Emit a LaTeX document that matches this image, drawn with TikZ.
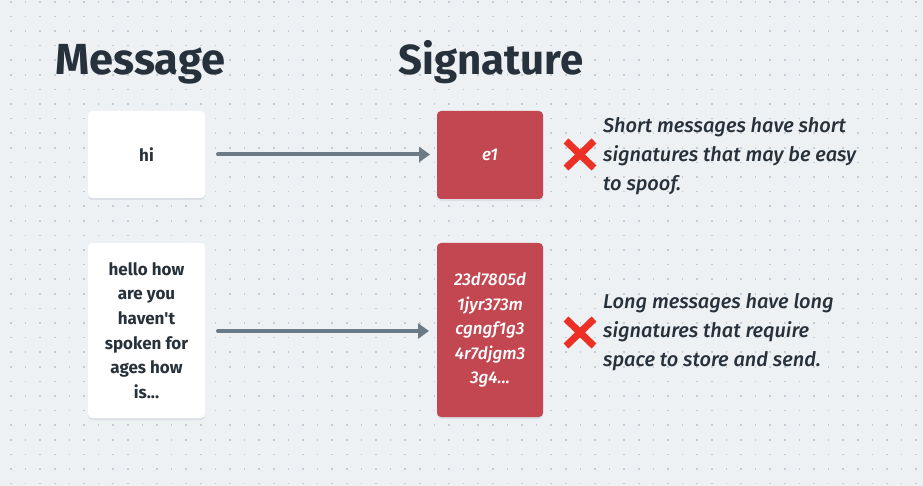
\documentclass[tikz,border=0pt]{standalone}
\usepackage{fontspec}
\setmainfont{Fira Sans}
\newfontfamily\medfont{Fira Sans Medium}[ItalicFont={Fira Sans Medium Italic}]
\newfontfamily\plainfont{Fira Sans}[Ligatures=TeXOff]
\usetikzlibrary{arrows.meta}
\definecolor{bg}{HTML}{EEF1F4}
\definecolor{dotc}{HTML}{C6CCD5}
\definecolor{ink}{HTML}{27313B}
\definecolor{sigred}{HTML}{C34751}
\definecolor{arrowc}{HTML}{6C7A86}
\definecolor{xred}{HTML}{EC3025}
\definecolor{shadowc}{HTML}{DCE0E6}
\tikzset{
  title/.style={font=\bfseries\fontsize{43.5}{50}\selectfont, text=ink, anchor=base west, inner sep=0},
  msgbox/.style={fill=white, rounded corners=4pt, draw=none},
  sigbox/.style={fill=sigred, rounded corners=4pt, draw=none},
  msgtext/.style={font=\plainfont\bfseries\fontsize{17}{24.6}\selectfont, text=ink, align=center, inner sep=0},
  sigtext/.style={font=\medfont\itshape\fontsize{17}{24.5}\selectfont, text=white, align=center, inner sep=0},
  note/.style={font=\medfont\itshape\fontsize{20}{29}\selectfont, text=ink, align=left, anchor=west, inner sep=0},
  conn/.style={draw=arrowc, line width=4pt, line cap=round, -{Triangle[length=11pt,width=15pt]}},
  cross/.style={draw=xred, line width=7pt},
}
\begin{document}
\begin{tikzpicture}[x=1pt,y=-1pt]
\useasboundingbox (0,0) rectangle (923,486);
\fill[bg] (0,0) rectangle (923,486);
\foreach \i in {0,...,62} {
  \foreach \j in {0,...,33} {
    \fill[dotc] ({11+14.6*\i-0.8},{1.8+14.6*\j-0.8}) rectangle ++(1.6,1.6);
  }
}
% titles
\node[title] (t1) at (55,75) {Message};
\node[title, font=\bfseries\fontsize{42}{50}\selectfont] (t2) at (398,75) {Signature};
% shadows
\fill[shadowc, rounded corners=4pt] (88,112.5) rectangle (205,200);
\fill[shadowc, rounded corners=4pt] (88,244.5) rectangle (205,420);
\fill[shadowc, rounded corners=4pt] (437,112.5) rectangle (543,201);
\fill[shadowc, rounded corners=4pt] (437,244.5) rectangle (543,419);
% boxes
\path[msgbox] (88,111) rectangle (205,198);
\path[msgbox] (88,243) rectangle (205,418);
\path[sigbox] (437,111) rectangle (543,199);
\path[sigbox] (437,243) rectangle (543,417);
\coordinate (m1) at (146.5,154.5);
\coordinate (m2) at (146.5,330.5);
\coordinate (s1) at (490,155);
\coordinate (s2) at (490,330);
\node[msgtext] (hi) at (m1) {hi};
\node[msgtext] (long) at (m2) {hello how\\are you\\haven't\\spoken for\\ages how\\is...};
\node[sigtext] (e1) at (s1) {e1};
\node[sigtext] (sig2) at (s2) {23d7805d\\1jyr373m\\cgngf1g3\\4r7djgm3\\3g4...};
% arrows
\coordinate (a1s) at (218,154.5);
\coordinate (a1e) at (430,154.5);
\coordinate (a2s) at (218,331);
\coordinate (a2e) at (429,331);
\draw[conn] (a1s) -- (a1e);
\draw[conn] (a2s) -- (a2e);
% crosses
\draw[cross] (566,141) -- (594,168);
\draw[cross] (594,141) -- (566,168);
\draw[cross] (566,319) -- (594,346);
\draw[cross] (594,319) -- (566,346);
% notes
\node[note] (n1) at (603,156) {Short messages have short\\signatures that may be easy\\to spoof.};
\node[note] (n2) at (603,332) {Long messages have long\\signatures that require\\space to store and send.};
\end{tikzpicture}
\end{document}
